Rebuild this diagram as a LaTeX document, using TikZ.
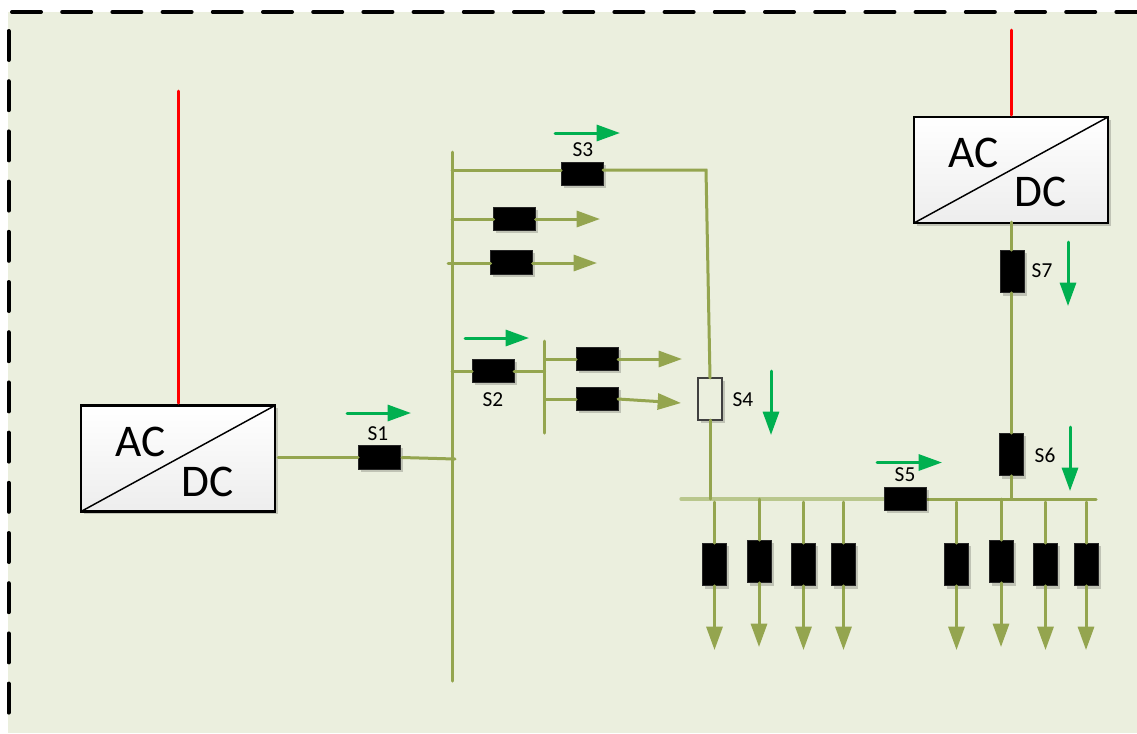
\documentclass[tikz,border=0pt]{standalone}
\usepackage{fontspec}
\setmainfont{Carlito}
\usetikzlibrary{arrows.meta,shadows}
\definecolor{panelbg}{HTML}{EBEFDE}
\definecolor{olive}{HTML}{94A54F}
\definecolor{lightolive}{HTML}{B9C78D}
\definecolor{flow}{HTML}{00B050}
\tikzset{
  softshadow/.style={drop shadow={shadow xshift=2pt,shadow yshift=-2pt,opacity=.18,fill=black}},
  breaker/.style={draw=black!85,line width=.75pt,fill=black,inner sep=0pt,outer sep=0pt,softshadow},
  hbreaker/.style={breaker,minimum width=31.5pt,minimum height=17.6pt},
  vbreaker/.style={breaker,minimum width=18pt,minimum height=32pt},
  openbreaker/.style={draw=black!75,line width=1.5pt,fill=panelbg,inner sep=0pt,outer sep=0pt,minimum width=18pt,minimum height=31.5pt,softshadow},
  converter/.style={draw=black,line width=1.9pt,top color=white,bottom color=black!7,inner sep=0pt,outer sep=0pt,minimum width=145.5pt,minimum height=79.5pt,softshadow},
  wire/.style={draw=olive,line width=2.25pt,line cap=round},
  feeder/.style={wire,-{Triangle[length=17.5pt,width=12pt]}},
  flowarrow/.style={draw=flow,line width=2.25pt,line cap=round,-{Triangle[length=17.5pt,width=12pt,fill=flow]}},
  acline/.style={draw=red,line width=2.25pt,line cap=round},
  tag/.style={font=\fontsize{16}{16}\selectfont,inner sep=0pt},
  bigtag/.style={font=\fontsize{34}{34}\selectfont,inner sep=0pt},
  panelline/.style={draw=black,line width=3pt,line cap=round}
}
\begin{document}
\begin{tikzpicture}[x=0.75pt,y=-0.75pt]
\useasboundingbox (0,0) rectangle (1137,733);
\fill[panelbg] (8,12) rectangle (1137,733);
\draw[panelline,dash pattern=on 21.75pt off 15.9pt] (12,12) -- (1137,12);
\draw[panelline,dash pattern=on 21.75pt off 15.9pt] (8.5,31) -- (8.5,733);

% coordinates
\coordinate (ac1) at (178.5,91);
\coordinate (ac2) at (1011,30);
\coordinate (mainT) at (452,152);
\coordinate (mainB) at (452,681);
\coordinate (j1) at (455,459);
\coordinate (conv1out) at (278,457);
\coordinate (j3) at (452,170);
\coordinate (corner) at (706,170);
\coordinate (jA) at (452,219);
\coordinate (tipA) at (600,219);
\coordinate (jB) at (448,263);
\coordinate (tipB) at (597,263);
\coordinate (j2) at (452,371);
\coordinate (subT) at (544.5,341);
\coordinate (subB) at (544.5,433);
\coordinate (j2s) at (544.5,371);
\coordinate (jC) at (544.5,359);
\coordinate (tipC) at (682,359);
\coordinate (jD) at (544.5,399);
\coordinate (tipD) at (681,403);
\coordinate (busL) at (681,499);
\coordinate (busR) at (1096,499);
\coordinate (j4) at (710,499);
\coordinate (j6) at (1011,499);
\coordinate (j7a) at (1011,222);

% AC lines and converters
\node[converter] (conv1) at (178,458.5) {};
\node[converter] (conv2) at (1011,170) {};
\draw[acline] (ac1) -- (178.5,403);
\draw[acline] (ac2) -- (1011,115);
\draw[black,line width=1.1pt] (conv1.south west) -- (conv1.north east);
\draw[black,line width=1.1pt] (conv2.south west) -- (conv2.north east);
\node[bigtag] (ac1t) at (141,442) {AC};
\node[bigtag] (dc1t) at (208,482) {DC};
\node[bigtag] (ac2t) at (974,153) {AC};
\node[bigtag] (dc2t) at (1041,192) {DC};

% buses
\draw[wire] (mainT) -- (mainB);
\draw[wire] (subT) -- (subB);
\draw[draw=lightolive,line width=2.5pt,line cap=round] (busL) -- (905,499);
\draw[wire] (905,499) -- (busR);

% breakers
\node[hbreaker] (s1) at (379,457.5) {};
\node[hbreaker] (s3) at (582,174) {};
\node[hbreaker] (bA) at (514.5,219) {};
\node[hbreaker] (bB) at (511.5,262.5) {};
\node[hbreaker] (s2) at (493,371) {};
\node[hbreaker] (bC) at (597,359) {};
\node[hbreaker] (bD) at (597,399) {};
\node[hbreaker] (s5) at (905,499) {};
\node[openbreaker] (s4) at (710,399) {};
\node[vbreaker] (s6) at (1011,454.5) {};
\node[vbreaker] (s7) at (1012.5,271.5) {};

% connectors
\draw[wire] (conv1out) -- (s1.west |- conv1out);
\draw[wire] (s1.east) ++(2,0) coordinate (s1e) (s1e) -- (j1);
\draw[wire] (j3) -- (s3.west |- j3);
\draw[wire] (s3.east |- corner) -- (corner) -- (s4.north);
\draw[feeder] (bA.east) -- (tipA);
\draw[wire] (jA) -- (bA.west);
\draw[wire] (jB) -- (bB.west |- jB);
\draw[feeder] (bB.east |- tipB) -- (tipB);
\draw[wire] (j2) -- (s2.west);
\draw[wire] (s2.east) -- (j2s);
\draw[wire] (jC) -- (bC.west);
\draw[feeder] (bC.east) -- (tipC);
\draw[wire] (jD) -- (bD.west);
\draw[feeder] (bD.east) -- (tipD);
\draw[wire] (s4.south) -- (j4);
\draw[wire] (j7a) -- (s7.north -| j7a);
\draw[wire] (s7.south -| j7a) -- (s6.north);
\draw[wire] (s6.south) -- (j6);

% feeders
\foreach \n/\x/\yc/\top/\tip in {f1/714.5/564.5/502/650,f2/759/561.5/499/647,f3/803.5/564.5/502/650,f4/843.5/564.5/502/650,f5/956.5/564.5/502/650,f6/1001/561.5/499/647,f7/1045.5/564.5/502/650,f8/1086/564.5/502/650}{
  \coordinate (\n t) at (\x,\top);
  \coordinate (\n a) at (\x,\tip);
  \node[vbreaker] (\n) at (\x,\yc) {};
  \draw[wire] (\n t) -- (\n.north);
  \draw[feeder] (\n.south) -- (\n a);
}

% flow arrows
\coordinate (a1s) at (347,413); \coordinate (a1e) at (411,413);
\coordinate (a2s) at (465,338); \coordinate (a2e) at (529,338);
\coordinate (a3s) at (555,133); \coordinate (a3e) at (620,133);
\coordinate (a4s) at (771,371); \coordinate (a4e) at (771,435);
\coordinate (a5s) at (877,462.5); \coordinate (a5e) at (942,462.5);
\coordinate (a6s) at (1070,427); \coordinate (a6e) at (1070,491);
\coordinate (a7s) at (1068,242); \coordinate (a7e) at (1068,306);
\foreach \k in {1,...,7}{\draw[flowarrow] (a\k s) -- (a\k e);}

% labels
\node[tag] (l1) at (378,434) {S1};
\node[tag] (l2) at (493,400) {S2};
\node[tag] (l3) at (583,150) {S3};
\node[tag] (l4) at (743,400) {S4};
\node[tag] (l5) at (905,475) {S5};
\node[tag] (l6) at (1045,455) {S6};
\node[tag] (l7) at (1042,271) {S7};
\end{tikzpicture}
\end{document}
